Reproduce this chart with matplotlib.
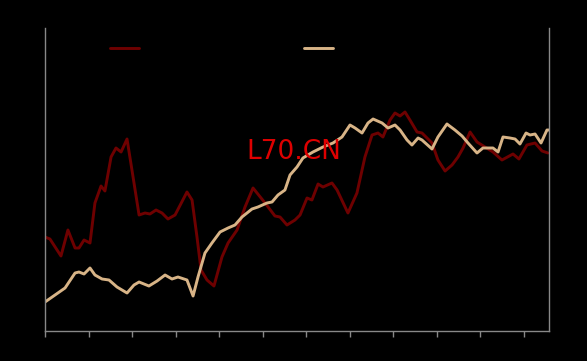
import matplotlib
matplotlib.use("Agg")
import matplotlib.pyplot as plt

# Series 1 (dark red): day index, value
red_days = [0, 3.4, 11.0, 15.8, 20.7, 23.4, 26.9, 31.0, 34.4, 38.6, 41.3, 45.5, 48.9, 52.4, 56.5,
            59.9, 64.8, 68.9, 72.3, 76.5, 80.6, 84.7, 89.6, 97.8, 101.3, 104.7, 107.5, 111.6, 116.4,
            121.9, 126.1, 132.3, 137.8, 143.3, 151.6, 158.4, 161.9, 166.7, 172.2, 175.7, 180.5, 183.9,
            188.1, 191.5, 197.7, 201.2, 208.7, 214.9, 220.4, 225.3, 229.4, 232.8, 237.7, 241.1, 244.6,
            248.0, 251.4, 256.3, 259.7, 266.6, 270.7, 275.6, 280.4, 284.5, 288.0, 292.8, 297.6, 303.1,
            308.6, 314.8, 322.4, 326.5, 332.0, 337.6, 342.4, 346.5]
red_vals = [94, 92, 75, 101, 83, 83, 91, 88, 128, 145, 140, 174, 183, 179, 192,
            161, 116, 118, 117, 121, 118, 112, 116, 139, 131, 94, 61, 51, 45,
            74, 88, 101, 124, 143, 128, 115, 114, 106, 111, 116, 133, 131,
            147, 144, 148, 141, 118, 138, 174, 196, 198, 194, 211, 218, 215,
            219, 211, 199, 198, 188, 171, 160, 166, 174, 183, 199, 189, 184,
            179, 171, 177, 172, 186, 188, 180, 178]

# Series 2 (tan)
tan_days = [0, 6.9, 13.8, 20.7, 23.4, 26.9, 31.0, 34.4, 39.3, 44.1, 49.6, 56.5, 61.3, 64.8, 71.6,
            77.2, 82.7, 87.5, 91.6, 97.8, 102.0, 105.4, 110.2, 115.0, 120.6, 126.1, 130.9, 135.7,
            142.6, 146.7, 152.9, 156.4, 160.5, 165.3, 168.8, 173.6, 177.7, 184.6, 191.5, 198.4, 204.6,
            210.1, 213.6, 218.4, 222.5, 226.0, 232.2, 236.3, 241.1, 244.6, 249.4, 252.8, 257.0, 259.7,
            266.6, 270.7, 276.9, 282.4, 287.3, 291.4, 297.6, 301.7, 308.6, 312.1, 315.5, 320.3, 323.8,
            327.2, 331.4, 334.1, 337.6, 341.7, 345.8, 347.2]
tan_vals = [29, 36, 43, 58, 59, 57, 63, 56, 52, 51, 44, 38, 46, 49, 45,
            50, 56, 52, 54, 51, 35, 54, 78, 88, 99, 103, 106, 114,
            122, 124, 128, 129, 136, 141, 156, 164, 173, 179, 184, 188, 194,
            206, 203, 198, 208, 212, 208, 203, 206, 201, 191, 186, 193, 191,
            182, 194, 207, 201, 195, 188, 178, 183, 183, 179, 194, 193, 192,
            187, 198, 196, 197, 188, 201, 201]

tick_days = [0, 30, 60, 90, 120, 150, 180, 210, 240, 270, 300, 330]
series_labels = ["L70.CN", "benchmark"]
title_text = "L70.CN"

fig = plt.figure(figsize=(5.87, 3.61), dpi=100, facecolor="black")
ax = fig.add_axes([45/587, 30/361, 504/587, 303/361])
ax.set_facecolor("black")

ax.plot(red_days, red_vals, color="#6e0000", lw=2.1, solid_joinstyle="round",
        solid_capstyle="round", label=series_labels[0])
ax.plot(tan_days, tan_vals, color="#d8b487", lw=2.1, solid_joinstyle="round",
        solid_capstyle="round", label=series_labels[1])

ax.set_xlim(0, 347.2)
ax.set_ylim(0, 303)
ax.set_xticks(tick_days)
ax.set_xticklabels([])
ax.set_yticks([])
ax.tick_params(axis="x", colors="#888888", length=4, width=1)

for s in ["left", "right", "bottom"]:
    ax.spines[s].set_color("#888888")
    ax.spines[s].set_linewidth(1)
ax.spines["top"].set_visible(False)

ax.text(0.493, 0.591, title_text, transform=ax.transAxes, color="#dd0000",
        fontsize=19, ha="center", va="center")

leg = ax.legend(loc="upper left", bbox_to_anchor=(0.118, 0.972), ncol=2, frameon=False,
                borderaxespad=0, columnspacing=7.5, handlelength=2.1, fontsize=10)
for t in leg.get_texts():
    t.set_color("black")

fig.savefig("out.png", dpi=100, facecolor="black")
